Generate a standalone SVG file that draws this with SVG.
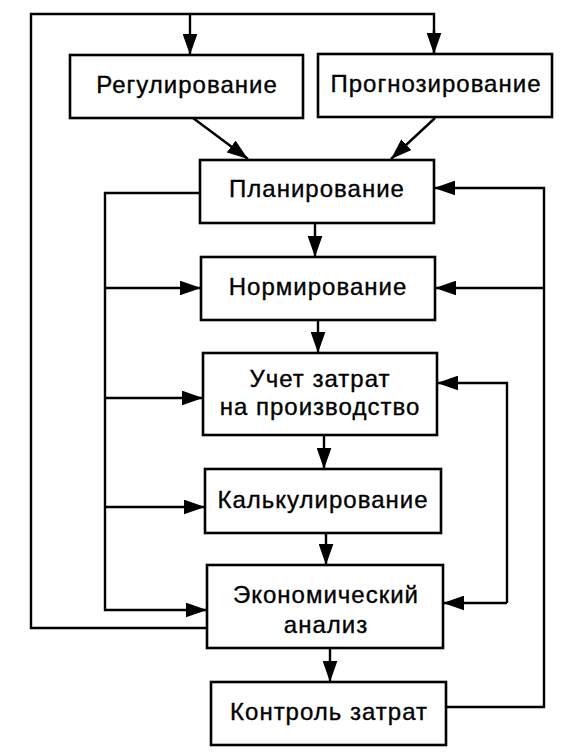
<svg xmlns="http://www.w3.org/2000/svg" width="577" height="754" viewBox="0 0 577 754">
<style>
.box{fill:#fff;stroke:#000;stroke-width:2.6}
.t{font-family:"Liberation Sans",Arial,sans-serif;font-size:24px;letter-spacing:1px;fill:#000;stroke:#000;stroke-width:0.35;text-anchor:middle}
.c{fill:none;stroke:#000;stroke-width:2.4}
.a{marker-end:url(#ah)}
</style>
<defs>
<marker id="ah" viewBox="0 0 20 14" refX="20" refY="7" markerWidth="21" markerHeight="15" markerUnits="userSpaceOnUse" orient="auto">
<path d="M0,0 L20,7 L0,14 z" fill="#000"/>
</marker>
</defs>
<rect width="577" height="754" fill="#fff"/>
<g id="connectors">
<path class="c" d="M207 628 H31 V14 H434 V54"/>
<path class="c a" d="M434 30 V54"/>
<path class="c a" d="M190 14 V55"/>
<path class="c a" d="M193 118 L248 159"/>
<path class="c a" d="M435 118 L391 159"/>
<path class="c a" d="M200 193 H105 V610 H207"/>
<path class="c a" d="M105 288 H201"/>
<path class="c a" d="M105 398 H203"/>
<path class="c a" d="M105 507 H205"/>
<path class="c a" d="M446 707 H544 V188 H434"/>
<path class="c a" d="M544 288 H435"/>
<path class="c a" d="M507 603 V383 H437"/>
<path class="c a" d="M507 603 H443"/>
<path class="c a" d="M315 223 V257"/>
<path class="c a" d="M318 320 V353"/>
<path class="c a" d="M324 435 V469"/>
<path class="c a" d="M326 533 V565"/>
<path class="c a" d="M330 648 V682"/>
</g>
<g id="reg"><rect class="box" x="70" y="55" width="233" height="63"/><text class="t" x="187" y="93">Регулирование</text></g>
<g id="prog"><rect class="box" x="318" y="54" width="234" height="63"/><text class="t" x="436" y="92">Прогнозирование</text></g>
<g id="plan"><rect class="box" x="200" y="160" width="234" height="63"/><text class="t" x="317" y="197">Планирование</text></g>
<g id="norm"><rect class="box" x="201" y="257" width="234" height="63"/><text class="t" x="318" y="295">Нормирование</text></g>
<g id="uchet"><rect class="box" x="203" y="353" width="234" height="82"/><text class="t" x="320" y="387">Учет затрат</text><text class="t" x="320" y="415">на производство</text></g>
<g id="kalk"><rect class="box" x="205" y="469" width="236" height="64"/><text class="t" x="323" y="508">Калькулирование</text></g>
<g id="econ"><rect class="box" x="207" y="565" width="236" height="83"/><text class="t" x="326" y="603">Экономический</text><text class="t" x="326" y="633">анализ</text></g>
<g id="kontr"><rect class="box" x="211" y="682" width="235" height="63"/><text class="t" x="329" y="720">Контроль затрат</text></g>
</svg>
